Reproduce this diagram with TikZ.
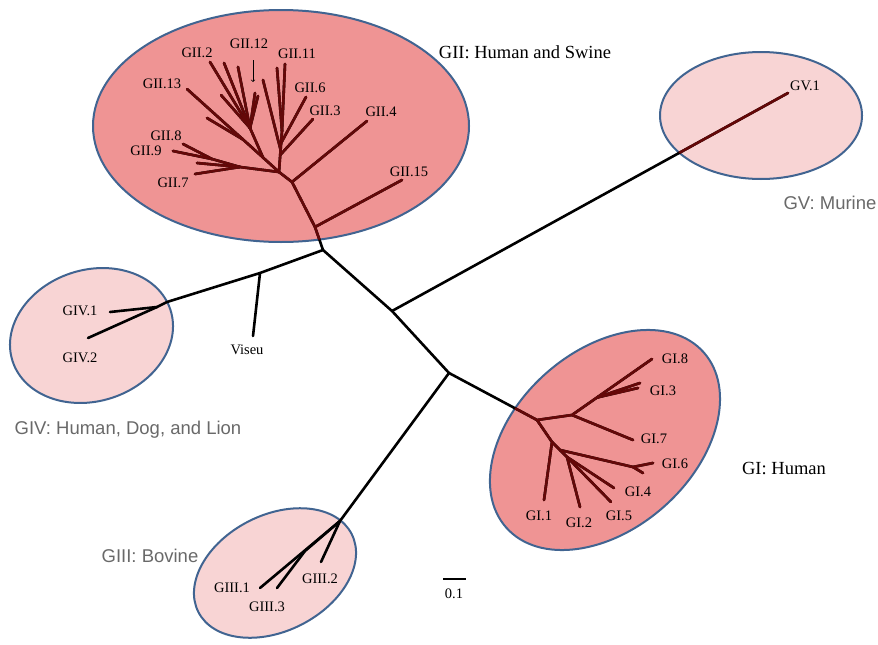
\documentclass[tikz,border=0pt]{standalone}
\usepackage{fontspec}
\setmainfont{Liberation Serif}
\setsansfont{Liberation Sans}
\definecolor{treered}{RGB}{100,8,8}
\definecolor{densefill}{RGB}{239,148,148}
\definecolor{lightfill}{RGB}{248,212,212}
\definecolor{edgeblue}{RGB}{65,100,145}
\definecolor{grouptext}{RGB}{105,105,105}
\begin{document}
\begin{tikzpicture}[x=1pt,y=-1pt,
  blk/.style={line width=2.6pt,black,line cap=round,line join=round},
  tree/.style={line width=2.6pt,treered,line cap=round,line join=round},
  dense/.style={fill=densefill,draw=edgeblue,line width=2pt},
  light/.style={fill=lightfill,draw=edgeblue,line width=2pt},
  lbl/.style={font=\fontsize{14.5}{16}\selectfont,inner sep=0pt,anchor=base},
  grp/.style={font=\fontsize{18.5}{20}\selectfont,inner sep=0pt,anchor=base},
  grpg/.style={font=\sffamily\fontsize{18.5}{20}\selectfont,text=grouptext,inner sep=0pt,anchor=base}]
\useasboundingbox (0,0) rectangle (878,645);

% ---------- ellipse centres ----------
\coordinate (cII) at (281,126);
\coordinate (cI) at (605,440);
\coordinate (cV) at (761,115.5);
\coordinate (cIV) at (91.5,335.5);
\coordinate (cIII) at (275,573);

\newcommand\ellII{(cII) ellipse [x radius=188pt, y radius=116pt]}
\newcommand\ellV{(cV) ellipse [x radius=101pt, y radius=63.5pt]}

\path[dense] \ellII;
\path[dense, rotate around={41.6:(cI)}] (cI) ellipse [x radius=132pt, y radius=89pt];
\path[light] \ellV;
\path[light, rotate around={18:(cIV)}] (cIV) ellipse [x radius=83pt, y radius=65.6pt];
\path[light, rotate around={27:(cIII)}] (cIII) ellipse [x radius=86pt, y radius=58pt];

% ---------- coordinates ----------
% centre
\coordinate (T0) at (323,250);
\coordinate (V) at (260,273);
\coordinate (Vend) at (253,336);
\coordinate (G4J) at (167,302);
\coordinate (G4k) at (157,307);
\coordinate (GIV1e) at (110,312);
\coordinate (GIV2e) at (88,338);
\coordinate (J1) at (392,311);
\coordinate (GV1e) at (788,93);
\coordinate (J2) at (449,373);
% GII
\coordinate (T1) at (315,227);
\coordinate (GII15e) at (402,180);
\coordinate (T2) at (292,182);
\coordinate (GII4e) at (367,121);
\coordinate (M) at (279,172);
\coordinate (L) at (240,167);
\coordinate (GII7e) at (195,174);
\coordinate (L2) at (212,159);
\coordinate (GII8e) at (183,144);
\coordinate (GII9e) at (173,151);
\coordinate (Lx) at (197,163);
\coordinate (N) at (263,157.5);
\coordinate (K) at (243,139.5);
\coordinate (GII13e) at (187,89);
\coordinate (Ke) at (207,118);
\coordinate (G2) at (250,128);
\coordinate (G2a) at (210,62);
\coordinate (G2b) at (224,63);
\coordinate (G2c) at (238,67);
\coordinate (G2d) at (221,95);
\coordinate (S1) at (255,93);
\coordinate (S2) at (258,96);
\coordinate (R0) at (282,131);
\coordinate (R1) at (280.2,155);
\coordinate (R2) at (281.1,143);
\coordinate (Ru) at (280.6,150);
\coordinate (GII11a) at (277,68);
\coordinate (GII11b) at (285,64);
\coordinate (GII3e) at (313,119);
\coordinate (GII6e) at (306,97);
\coordinate (Rue) at (263,80);
\coordinate (arrS) at (253,60);
\coordinate (arrE) at (253,82);
% GI
\coordinate (A) at (537,420);
\coordinate (B) at (572,415);
\coordinate (C) at (597,397.5);
\coordinate (GI8e) at (652,359);
\coordinate (GI3a) at (640,383);
\coordinate (GI3b) at (638,388);
\coordinate (GI7e) at (633,440);
\coordinate (D) at (552,442);
\coordinate (GI1e) at (544,500);
\coordinate (E) at (560,450);
\coordinate (GI6j) at (633,467);
\coordinate (GI6a) at (653,463);
\coordinate (GI6b) at (643,473);
\coordinate (F) at (567,457);
\coordinate (GI2e) at (580,507);
\coordinate (GI4e) at (614,488);
\coordinate (GI5e) at (611,502);
% GIII
\coordinate (GIIIj) at (340,521);
\coordinate (GIII2e) at (321,562);
\coordinate (GIII1e) at (260,588);
\coordinate (P) at (305,551);
\coordinate (GIII3e) at (277,588);
% scale bar
\coordinate (sb1) at (443,579);
\coordinate (sb2) at (466,579);

% ---------- branch sets ----------
\newcommand\GIIbranches[1]{%
  \draw[#1] (T0) -- (T1) -- (T2) -- (M);
  \draw[#1] (T1) -- (GII15e);
  \draw[#1] (T2) -- (GII4e);
  \draw[#1] (M) -- (L) -- (GII7e);
  \draw[#1] (L) -- (L2) -- (GII8e);
  \draw[#1] (L2) -- (GII9e);
  \draw[#1] (L) -- (Lx);
  \draw[#1] (M) -- (N) -- (K) -- (GII13e);
  \draw[#1] (K) -- (Ke);
  \draw[#1] (N) -- (G2) -- (G2a);
  \draw[#1] (G2) -- (G2b);
  \draw[#1] (G2) -- (G2c);
  \draw[#1] (G2) -- (G2d);
  \draw[#1] (G2) -- (S1);
  \draw[#1] (G2) -- (S2);
  \draw[#1] (M) -- (R1) -- (Ru) -- (R2) -- (R0) -- (GII11a);
  \draw[#1] (R0) -- (GII11b);
  \draw[#1] (R1) -- (GII3e);
  \draw[#1] (R2) -- (GII6e);
  \draw[#1] (Ru) -- (Rue);
}
\newcommand\GIbranches[1]{%
  \draw[#1] (J2) -- (A) -- (B) -- (C) -- (GI8e);
  \draw[#1] (C) -- (GI3a);
  \draw[#1] (C) -- (GI3b);
  \draw[#1] (B) -- (GI7e);
  \draw[#1] (A) -- (D) -- (GI1e);
  \draw[#1] (D) -- (E) -- (GI6j) -- (GI6a);
  \draw[#1] (GI6j) -- (GI6b);
  \draw[#1] (E) -- (F) -- (GI2e);
  \draw[#1] (F) -- (GI4e);
  \draw[#1] (F) -- (GI5e);
}

% ---------- black lines ----------
\GIIbranches{blk}
\GIbranches{blk}
\draw[blk] (T0) -- (V) -- (G4J) -- (G4k) -- (GIV1e);
\draw[blk] (G4k) -- (GIV2e);
\draw[blk] (V) -- (Vend);
\draw[blk] (T0) -- (J1) -- (J2) -- (GIIIj) -- (GIII2e);
\draw[blk] (GIIIj) -- (GIII1e);
\draw[blk] (GIIIj) -- (P) -- (GIII3e);
\draw[blk] (J1) -- (GV1e);

% ---------- dark red inside the clade ellipses ----------
\begin{scope}
  \clip \ellII;
  \GIIbranches{tree}
\end{scope}
\begin{scope}
  \clip[rotate around={41.6:(cI)}] (cI) ellipse [x radius=132pt, y radius=89pt];
  \GIbranches{tree}
\end{scope}
\begin{scope}
  \clip \ellV;
  \draw[tree] (J1) -- (GV1e);
\end{scope}

% arrow to GII.12
\draw[line width=0.7pt,->] (arrS) -- (arrE);

% scale bar
\draw[line width=2.4pt] (sb1) -- (sb2);

% ---------- labels ----------
\node[lbl] (lGII2) at (197,57) {GII.2};
\node[lbl] (lGII12) at (249,48) {GII.12};
\node[lbl] (lGII11) at (297,58) {GII.11};
\node[lbl] (lGII13) at (162,88) {GII.13};
\node[lbl] (lGII6) at (310,92) {GII.6};
\node[lbl] (lGII3) at (325,115) {GII.3};
\node[lbl] (lGII4) at (381,116) {GII.4};
\node[lbl] (lGII15) at (409,176) {GII.15};
\node[lbl] (lGII8) at (166,140) {GII.8};
\node[lbl] (lGII9) at (146,155) {GII.9};
\node[lbl] (lGII7) at (173,187) {GII.7};
\node[lbl] (lGV1) at (805,90) {GV.1};
\node[lbl] (lGIV1) at (80,315) {GIV.1};
\node[lbl] (lGIV2) at (80,362) {GIV.2};
\node[lbl] (lViseu) at (247,354) {Viseu};
\node[lbl] (lGI8) at (675,363) {GI.8};
\node[lbl] (lGI3) at (663,395) {GI.3};
\node[lbl] (lGI7) at (654,443) {GI.7};
\node[lbl] (lGI6) at (675,468) {GI.6};
\node[lbl] (lGI4) at (638,496) {GI.4};
\node[lbl] (lGI5) at (619,520) {GI.5};
\node[lbl] (lGI2) at (579,527) {GI.2};
\node[lbl] (lGI1) at (539,520) {GI.1};
\node[lbl] (lGIII1) at (232,592) {GIII.1};
\node[lbl] (lGIII3) at (267,611) {GIII.3};
\node[lbl] (lGIII2) at (320,583) {GIII.2};
\node[lbl] (lscale) at (454,598) {0.1};

\node[grp] (gII) at (525,58) {GII: Human and Swine};
\node[grp] (gI) at (784,474) {GI: Human};
\node[grpg] (gV) at (830,209) {GV: Murine};
\node[grpg] (gIV) at (128,434) {GIV: Human, Dog, and Lion};
\node[grpg] (gIII) at (150,562) {GIII: Bovine};
\end{tikzpicture}
\end{document}
